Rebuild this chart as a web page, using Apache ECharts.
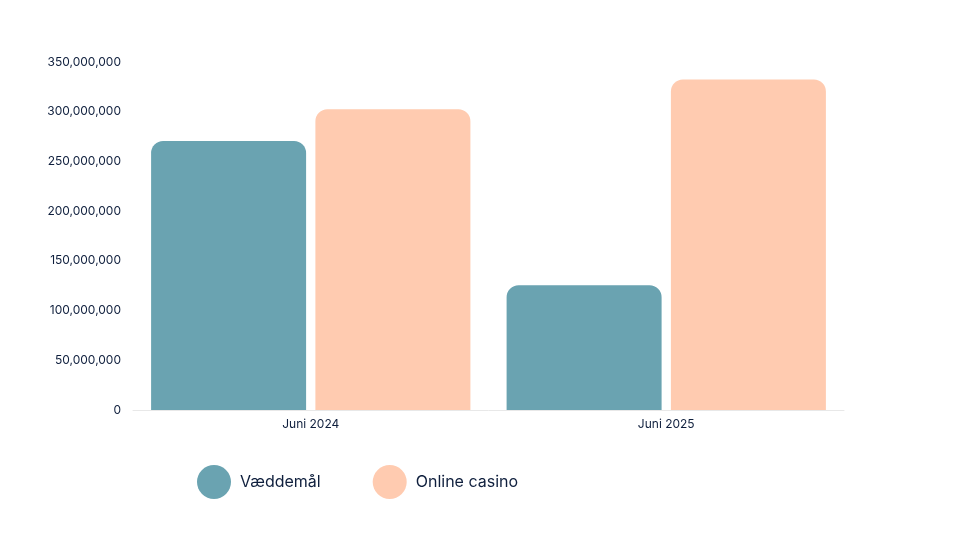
<!DOCTYPE html>
<html><head><meta charset="utf-8">
<script src="https://cdn.jsdelivr.net/npm/echarts@6/dist/echarts.min.js"></script>
<style>html,body{margin:0;padding:0;background:#fff}#c{width:960px;height:540px}</style>
</head><body><div id="c"></div>
<script>
const categories = ['Juni 2024', 'Juni 2025'];
const vaeddemaal = [270500000, 125500000];
const onlineCasino = [302500000, 332500000];
const chart = echarts.init(document.getElementById('c'));
const txt = '#0f1f3d';
chart.setOption({
  animation: false,
  textStyle: { fontFamily: 'Inter, Open Sans, sans-serif' },
  grid: { left: 133, right: 116, top: 62, bottom: 130, containLabel: false },
  legend: {
    bottom: 36, left: 192, itemWidth: 34, itemHeight: 34, itemGap: 52, icon: 'circle',
    textStyle: { fontSize: 16, color: txt, padding: [0, 0, 0, 4] },
    data: ['Væddemål', 'Online casino']
  },
  xAxis: {
    type: 'category', data: categories,
    axisLine: { lineStyle: { color: '#e8e8e8' } }, axisTick: { show: false },
    axisLabel: { color: txt, fontSize: 12 }
  },
  yAxis: {
    type: 'value', min: 0, max: 350000000, interval: 50000000,
    splitLine: { show: false }, axisLine: { show: false },
    axisLabel: { color: txt, fontSize: 12, margin: 12 }
  },
  series: [
    { name: 'Væddemål', type: 'bar', data: vaeddemaal, barWidth: 155, barGap: '6%',
      itemStyle: { color: '#6aa3b1', borderRadius: [12, 12, 0, 0] } },
    { name: 'Online casino', type: 'bar', data: onlineCasino, barWidth: 155,
      itemStyle: { color: '#ffcbb0', borderRadius: [12, 12, 0, 0] } }
  ]
});
</script></body></html>
